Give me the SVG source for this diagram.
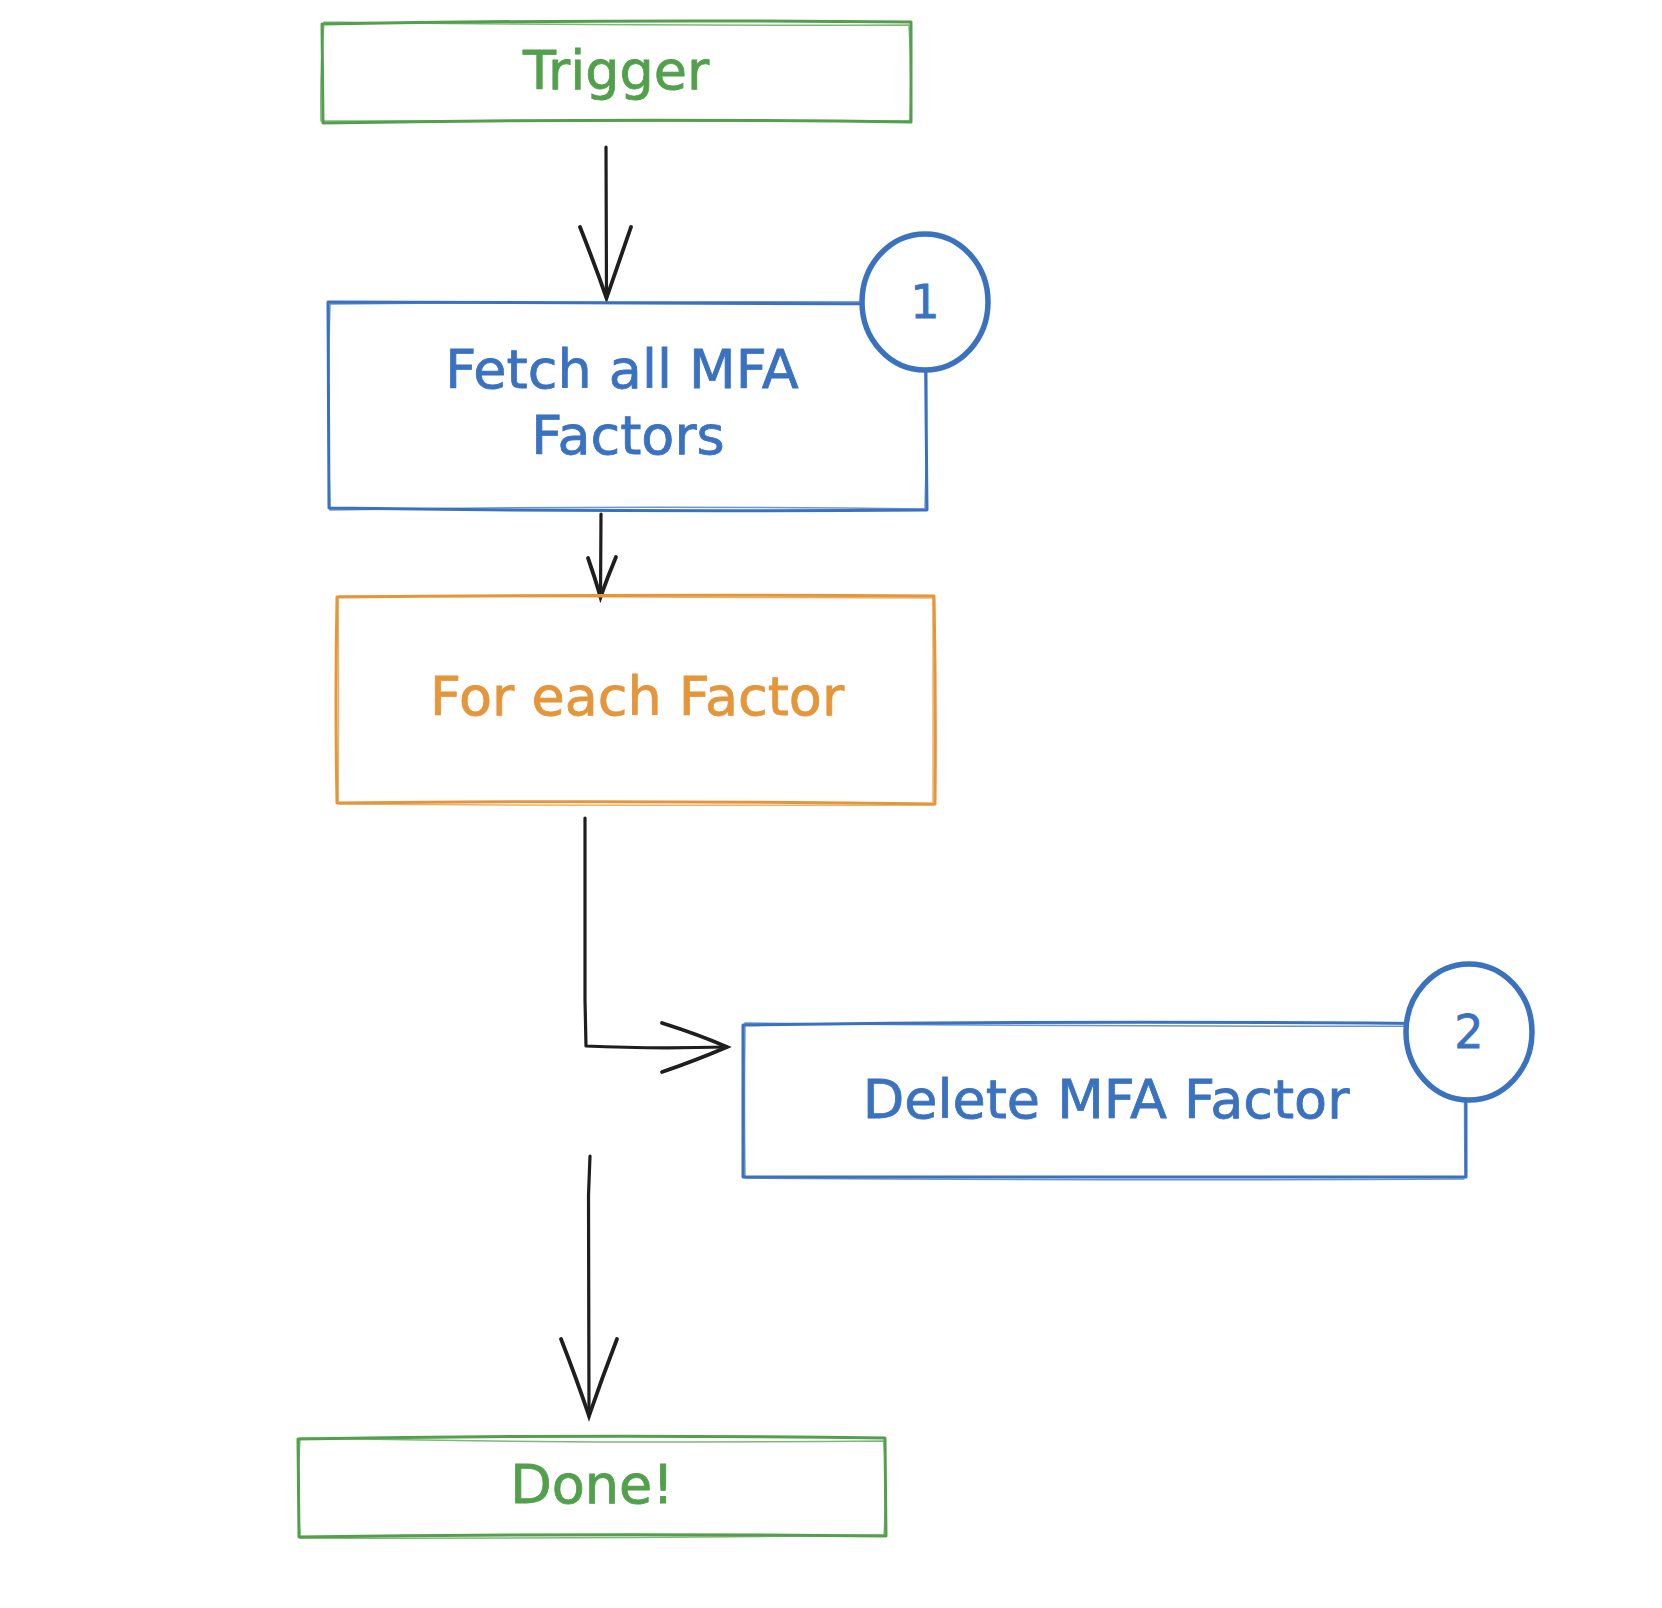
<svg xmlns="http://www.w3.org/2000/svg" width="1662" height="1608" viewBox="0 0 1662 1608">
<style>
.box{fill:none;stroke-width:3;stroke-linejoin:round;stroke-linecap:round}
.box2{fill:none;stroke-width:1.5;stroke-linejoin:round;stroke-linecap:round;opacity:.75}
.green{stroke:#52a04c}
.blue{stroke:#3a72c0}
.orange{stroke:#e5953a}
.badge{fill:#ffffff;stroke:#3a72c0;stroke-width:5.5}
.lbl{font-family:"DejaVu Sans","Liberation Sans",sans-serif;font-size:54px;text-anchor:middle;stroke-width:0.8}
.num{font-family:"DejaVu Sans","Liberation Sans",sans-serif;font-size:46px;text-anchor:middle;fill:#3a72c0;stroke:#3a72c0;stroke-width:0.8}
.tg{fill:#52a04c;stroke:#52a04c}
.tb{fill:#3a72c0;stroke:#3a72c0}
.to{fill:#e5953a;stroke:#e5953a}
.conn{fill:none;stroke:#1e1e1e;stroke-width:3.2;stroke-linecap:round;stroke-linejoin:round}
.head{fill:none;stroke:#1e1e1e;stroke-width:3.8;stroke-linecap:round;stroke-linejoin:miter}
</style>
<rect width="1662" height="1608" fill="#ffffff"/>
<g id="connectors">
  <g id="c1">
    <path class="conn" d="M606,147 L606.5,298"/>
    <path class="head" d="M580,227 Q595,265 606.5,298 Q619,262 631,227"/>
  </g>
  <g id="c2">
    <path class="conn" d="M601,514 L600.5,597"/>
    <path class="head" d="M588,558 Q595,578 600.5,597 Q608,576 616,557"/>
  </g>
  <g id="c3">
    <path class="conn" d="M585,818 L585,1000 L586,1046 Q650,1049 727,1047"/>
    <path class="head" d="M662,1023 Q700,1035 727,1047 Q697,1060 662,1072"/>
  </g>
  <g id="c4">
    <path class="conn" d="M590,1156 L588.5,1195 L589,1416"/>
    <path class="head" d="M561,1339 Q577,1380 589,1416 Q602,1378 617,1339"/>
  </g>
</g>
<g id="node-trigger">
  <path class="box green" d="M322,24 Q615,19 911,22 L911,122 Q615,118 323,123 Z"/>
  <path class="box2 green" d="M324,22 Q615,26 909,25 Q912,70 910,121 Q615,121 321,121 Q320,70 324,22"/>
  <text class="lbl tg" x="616" y="89">Trigger</text>
</g>
<g id="node-fetch">
  <path class="box blue" d="M328,302 Q620,303 925,304 L927,510 Q620,512 329,508 Z"/>
  <path class="box2 blue" d="M330,304 Q620,301 924,302 M926,304 Q928,400 925,508 M925,509 Q620,505 330,510 Q327,400 330,304"/>
  <text class="lbl tb" x="622" y="388">Fetch all MFA</text>
  <text class="lbl tb" x="628" y="454">Factors</text>
</g>
<g id="badge-1">
  <ellipse class="badge" cx="925" cy="302" rx="63" ry="68"/>
  <text class="num" x="925" y="318">1</text>
</g>
<g id="node-foreach">
  <path class="box orange" d="M337,597 Q636,594 934,596 Q936,700 935,804 Q636,800 337,803 Q335,700 337,597 Z"/>
  <path class="box2 orange" d="M339,596 Q636,598 932,598 M933,598 Q933,700 933,802 M934,805 Q636,806 339,804 M338,802 Q339,700 338,598"/>
  <text class="lbl to" x="637" y="715">For each Factor</text>
</g>
<g id="node-delete">
  <path class="box blue" d="M743,1025 Q1100,1020 1466,1024 L1466,1177 Q1100,1176 743,1177 Z"/>
  <path class="box2 blue" d="M745,1023 Q1100,1027 1464,1026 M1465,1026 Q1464,1100 1465,1175 M1464,1179 Q1100,1181 745,1178 Q744,1100 745,1023"/>
  <text class="lbl tb" x="1106" y="1118">Delete MFA Factor</text>
</g>
<g id="badge-2">
  <ellipse class="badge" cx="1469" cy="1032" rx="63" ry="68"/>
  <text class="num" x="1469" y="1048">2</text>
</g>
<g id="node-done">
  <path class="box green" d="M298,1439 Q590,1434 885,1438 L886,1536 Q590,1533 299,1537 Z"/>
  <path class="box2 green" d="M300,1438 Q590,1444 884,1441 Q887,1487 884,1535 Q590,1539 300,1538 Q297,1487 300,1438"/>
  <text class="lbl tg" x="592" y="1503">Done!</text>
</g>
</svg>
